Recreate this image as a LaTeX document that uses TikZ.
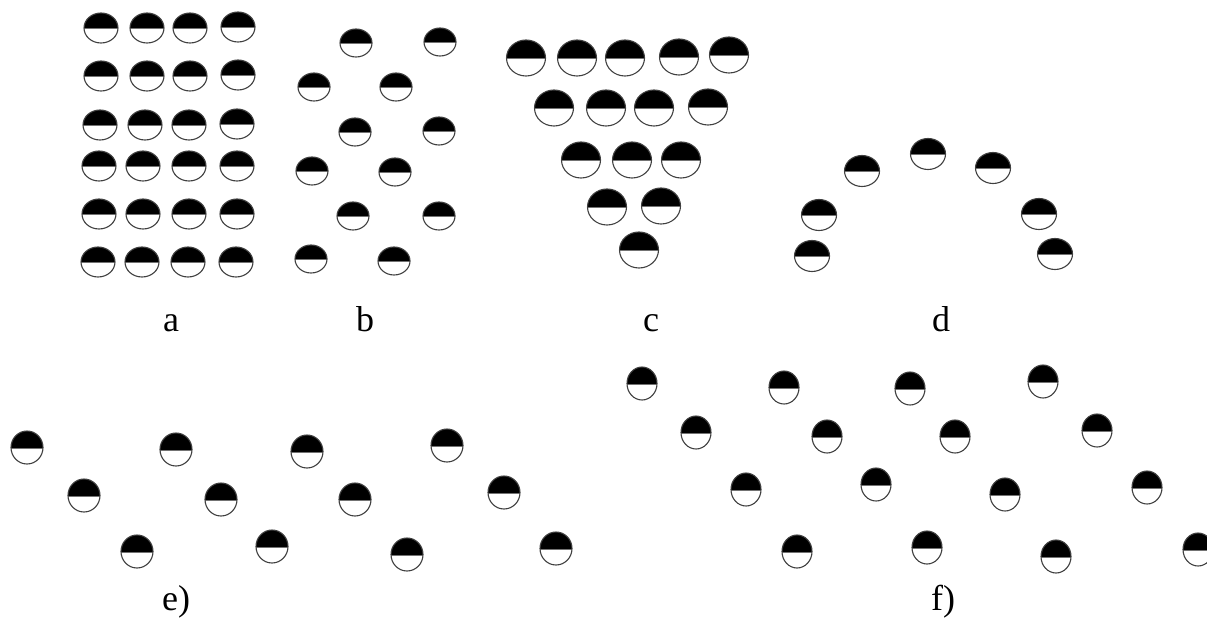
\documentclass[tikz,border=0pt]{standalone}
\usepackage{fontspec}
\setmainfont{Liberation Serif}
\begin{document}
\begin{tikzpicture}[x=1pt,y=-1pt]
\tikzset{
  disc rx/.store in=\discrx, disc ry/.store in=\discry, disc off/.store in=\discoff,
  disc rx=17, disc ry=15, disc off=-1,
  rim/.style={draw=black!75, line width=1.1pt},
  divider/.style={draw=black!55, line width=1pt},
  lab/.style={font=\fontsize{36}{40}\selectfont, anchor=base, inner sep=0pt},
  disc/.pic={
    \begin{scope}
      \clip (0,\discoff) ellipse [x radius=\discrx, y radius=\discry];
      \fill[black] (-\discrx-1,\discoff-\discry-1) rectangle (\discrx+1,0);
      \draw[divider] (-\discrx-1,0) -- (\discrx+1,0);
    \end{scope}
    \draw[rim] (0,\discoff) ellipse [x radius=\discrx, y radius=\discry];
  },
}
\useasboundingbox (0,0) rectangle (1207,620);
\clip (0,0) rectangle (1207,620);
% group a
\begin{scope}[disc rx=17, disc ry=15]
\foreach \x/\y [count=\i] in {101/29,147/29,190/29,238/28,
  101/77,147/77,190/77,238/76,
  100/126,145/126,189/126,237/125,
  99/167,143/167,189/167,237/167,
  99/215,143/215,189/215,237/215,
  98/263,142/263,188/263,236/263}
  \pic (a\i) at (\x,\y) {disc};
\end{scope}
% group b
\begin{scope}[disc rx=16, disc ry=14]
\foreach \x/\y [count=\i] in {356/44,440/43,314/88,396/88,355/133,439/132,
  312/172,395/173,353/217,439/217,311/260,394/262}
  \pic (b\i) at (\x,\y) {disc};
\end{scope}
% group c
\begin{scope}[disc rx=19.5, disc ry=18]
\foreach \x/\y [count=\i] in {526/59,577/59,625/59,679/58,729/56,
  554/109,606/109,654/109,708/108,
  581/161,632/161,681/161,
  607/208,661/207,
  639/251}
  \pic (c\i) at (\x,\y) {disc};
\end{scope}
% group d
\begin{scope}[disc rx=17.5, disc ry=15.5]
\foreach \x/\y [count=\i] in {812/257,819/216,862/172,928/155,993/169,1039/215,1055/255}
  \pic (d\i) at (\x,\y) {disc};
\end{scope}
% group e
\begin{scope}[disc rx=16, disc ry=16.5, disc off=-0.5]
\foreach \x/\y [count=\i] in {27/448,84/496,137/552,176/450,221/500,272/547,
  307/452,355/500,407/555,447/446,504/493,556/549}
  \pic (e\i) at (\x,\y) {disc};
\end{scope}
% group f
\begin{scope}[disc rx=15, disc ry=16.5, disc off=-0.5]
\foreach \x/\y [count=\i] in {642/384,784/388,910/389,1043/382,
  696/433,827/437,955/437,1097/431,
  746/490,876/485,1005/495,1147/488,
  797/552,927/548,1056/557,1198/550}
  \pic (f\i) at (\x,\y) {disc};
\end{scope}
% labels
\node[lab] (la) at (171,331) {a};
\node[lab] (lb) at (365,331) {b};
\node[lab] (lc) at (651,331) {c};
\node[lab] (ld) at (941,331) {d};
\node[lab] (le) at (176,610) {e)};
\node[lab] (lf) at (943,610) {f)};
\end{tikzpicture}
\end{document}
